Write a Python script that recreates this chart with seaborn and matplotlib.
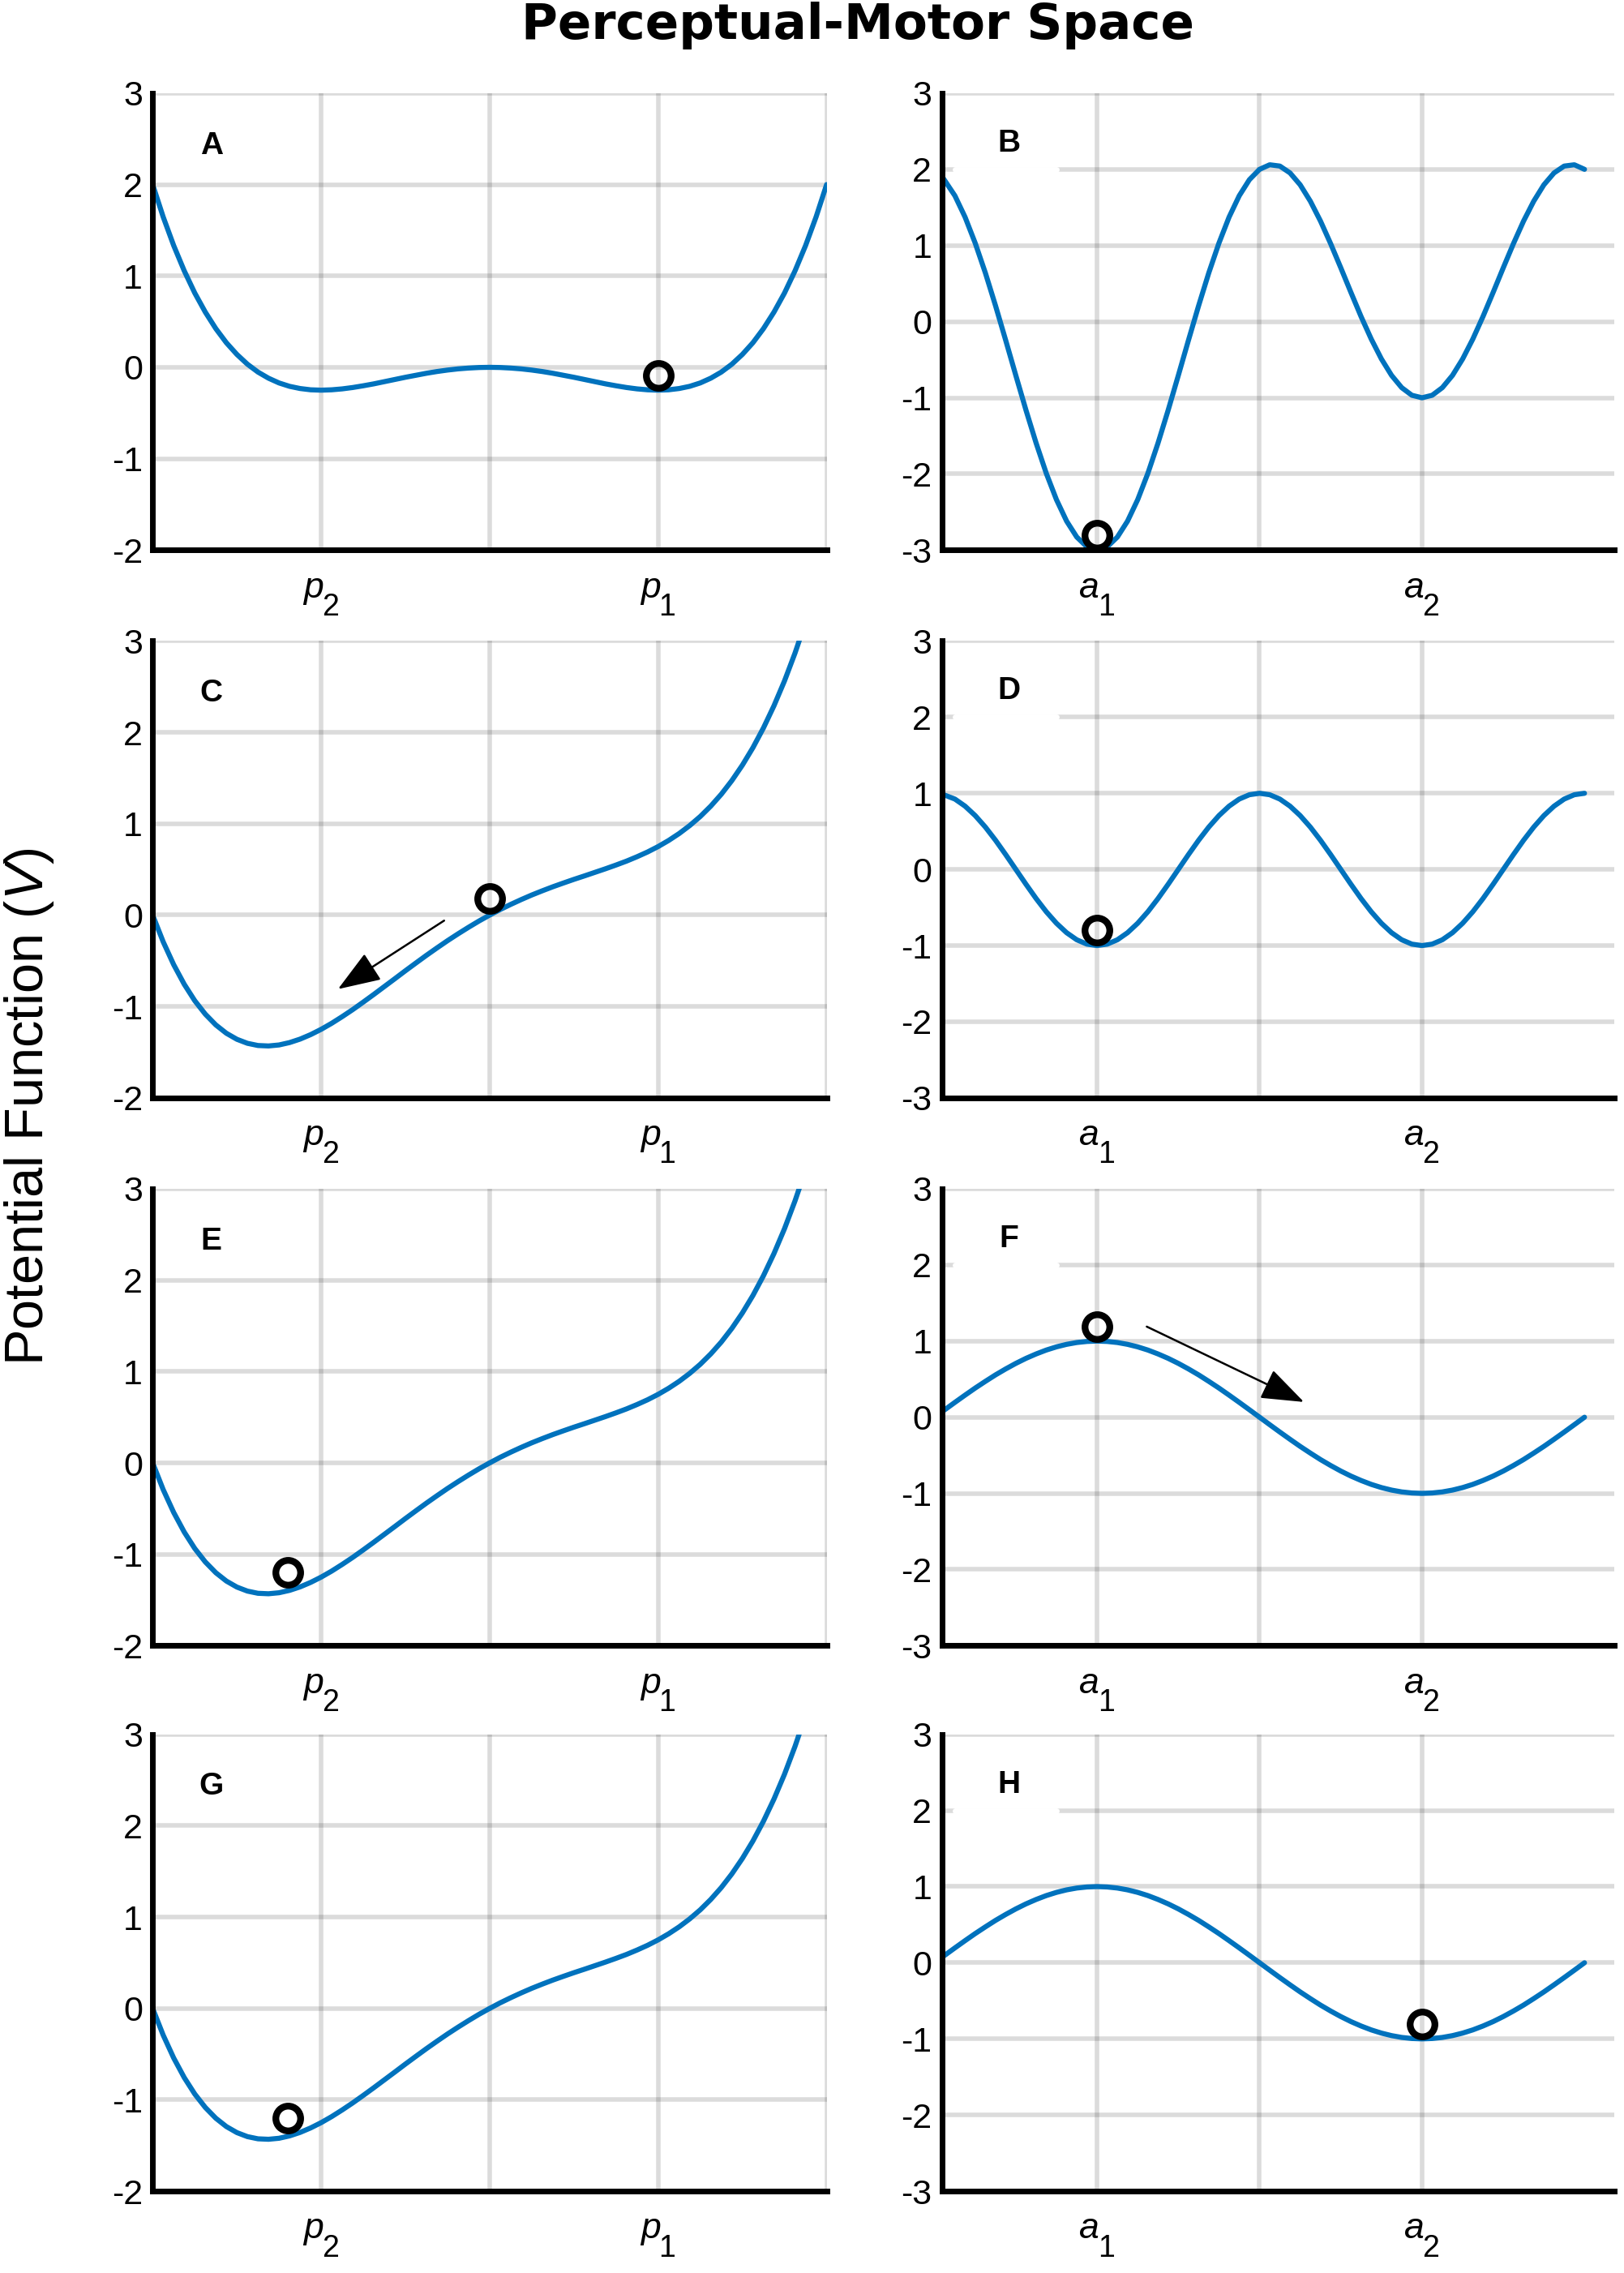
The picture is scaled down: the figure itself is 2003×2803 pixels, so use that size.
import matplotlib
matplotlib.use("Agg")
import matplotlib.pyplot as plt
from matplotlib.patches import FancyArrowPatch
import numpy as np
import seaborn as sns

# ── values ────────────────────────────────────────────────────
# perceptual axis (left column)
P_X = [-2.0, -1.9375, -1.875, -1.8125, -1.75, -1.6875, -1.625, -1.5625,
       -1.5, -1.4375, -1.375, -1.3125, -1.25, -1.1875, -1.125, -1.0625,
       -1.0, -0.9375, -0.875, -0.8125, -0.75, -0.6875, -0.625, -0.5625,
       -0.5, -0.4375, -0.375, -0.3125, -0.25, -0.1875, -0.125, -0.0625,
       0.0, 0.0625, 0.125, 0.1875, 0.25, 0.3125, 0.375, 0.4375,
       0.5, 0.5625, 0.625, 0.6875, 0.75, 0.8125, 0.875, 0.9375,
       1.0, 1.0625, 1.125, 1.1875, 1.25, 1.3125, 1.375, 1.4375,
       1.5, 1.5625, 1.625, 1.6875, 1.75, 1.8125, 1.875, 1.9375, 2.0]
A_V = [2.0, 1.646, 1.332, 1.056, 0.813, 0.604, 0.423, 0.269,
       0.141, 0.034, -0.052, -0.119, -0.171, -0.208, -0.232, -0.246,
       -0.25, -0.246, -0.236, -0.221, -0.202, -0.181, -0.157, -0.133,
       -0.109, -0.087, -0.065, -0.046, -0.030, -0.017, -0.008, -0.002,
       0.0, -0.002, -0.008, -0.017, -0.030, -0.046, -0.065, -0.087,
       -0.109, -0.133, -0.157, -0.181, -0.202, -0.221, -0.236, -0.246,
       -0.25, -0.246, -0.232, -0.208, -0.171, -0.119, -0.052, 0.034,
       0.141, 0.269, 0.423, 0.604, 0.813, 1.056, 1.332, 1.646, 2.0]
TILT_V = [0.0, -0.292, -0.543, -0.757, -0.937, -1.084, -1.202, -1.293,
          -1.359, -1.403, -1.427, -1.432, -1.421, -1.395, -1.357, -1.308,
          -1.25, -1.184, -1.111, -1.034, -0.952, -0.868, -0.782, -0.696,
          -0.609, -0.524, -0.44, -0.359, -0.28, -0.205, -0.133, -0.064,
          0.0, 0.061, 0.117, 0.170, 0.22, 0.266, 0.31, 0.351,
          0.391, 0.429, 0.468, 0.507, 0.548, 0.591, 0.639, 0.691,
          0.75, 0.817, 0.893, 0.980, 1.079, 1.193, 1.323, 1.472,
          1.641, 1.832, 2.048, 2.291, 2.563, 2.868, 3.207, 3.584, 4.0]

# motor axis (right column)
M_X = [-1.5, -1.3744, -1.2763, -1.1781, -1.0799, -0.9817, -0.8836, -0.7854,
       -0.6872, -0.5890, -0.4909, -0.3927, -0.2945, -0.1963, -0.0982,
       0.0, 0.0982, 0.1963, 0.2945, 0.3927, 0.4909, 0.5890, 0.6872,
       0.7854, 0.8836, 0.9817, 1.0799, 1.1781, 1.2763, 1.3744, 1.4726,
       1.5708, 1.6690, 1.7671, 1.8653, 1.9635, 2.0617, 2.1598, 2.2580,
       2.3562, 2.4544, 2.5525, 2.6507, 2.7489, 2.8471, 2.9452, 3.0434,
       3.1416, 3.2398, 3.3379, 3.4361, 3.5343, 3.6325, 3.7306, 3.8288,
       3.9270, 4.0252, 4.1233, 4.2215, 4.3197, 4.4179, 4.5160, 4.6142, 4.7124]
B_V = [1.909, 1.653, 1.373, 1.031, 0.640, 0.209, -0.244, -0.707,
       -1.163, -1.596, -1.993, -2.338, -2.620, -2.829, -2.957,
       -3.0, -2.957, -2.829, -2.620, -2.338, -1.993, -1.596, -1.163,
       -0.707, -0.244, 0.209, 0.640, 1.031, 1.373, 1.653, 1.864,
       2.0, 2.060, 2.043, 1.953, 1.797, 1.582, 1.321, 1.024,
       0.707, 0.383, 0.066, -0.229, -0.490, -0.706, -0.867, -0.967,
       -1.0, -0.967, -0.867, -0.706, -0.490, -0.229, 0.066, 0.383,
       0.707, 1.024, 1.321, 1.582, 1.797, 1.953, 2.043, 2.060, 2.0]
D_V = [0.990, 0.924, 0.831, 0.707, 0.556, 0.383, 0.195, 0.0,
       -0.195, -0.383, -0.556, -0.707, -0.831, -0.924, -0.981,
       -1.0, -0.981, -0.924, -0.831, -0.707, -0.556, -0.383, -0.195,
       0.0, 0.195, 0.383, 0.556, 0.707, 0.831, 0.924, 0.981,
       1.0, 0.981, 0.924, 0.831, 0.707, 0.556, 0.383, 0.195,
       0.0, -0.195, -0.383, -0.556, -0.707, -0.831, -0.924, -0.981,
       -1.0, -0.981, -0.924, -0.831, -0.707, -0.556, -0.383, -0.195,
       0.0, 0.195, 0.383, 0.556, 0.707, 0.831, 0.924, 0.981, 1.0]
F_V = [0.071, 0.195, 0.290, 0.383, 0.471, 0.556, 0.634, 0.707,
       0.773, 0.831, 0.882, 0.924, 0.957, 0.981, 0.995,
       1.0, 0.995, 0.981, 0.957, 0.924, 0.882, 0.831, 0.773,
       0.707, 0.634, 0.556, 0.471, 0.383, 0.290, 0.195, 0.098,
       0.0, -0.098, -0.195, -0.290, -0.383, -0.471, -0.556, -0.634,
       -0.707, -0.773, -0.831, -0.882, -0.924, -0.957, -0.981, -0.995,
       -1.0, -0.995, -0.981, -0.957, -0.924, -0.882, -0.831, -0.773,
       -0.707, -0.634, -0.556, -0.471, -0.383, -0.290, -0.195, -0.098, 0.0]

PANELS = ["A", "B", "C", "D", "E", "F", "G", "H"]
CURVES = {"A": (P_X, A_V), "B": (M_X, B_V), "C": (P_X, TILT_V), "D": (M_X, D_V),
          "E": (P_X, TILT_V), "F": (M_X, F_V), "G": (P_X, TILT_V), "H": (M_X, F_V)}
BALL_X = [1.0, 0.0, 0.0, 0.0, -1.2, 0.0, -1.2, 3.142]
BALL_Y = [-0.09, -2.81, 0.18, -0.8, -1.2, 1.19, -1.2, -0.8]
ARROWS = {"C": ((-0.27, -0.06), (-0.90, -0.81)),
          "F": ((0.48, 1.19), (2.0, 0.2))}

P_TICKS = [-2, -1, 0, 1, 2]
A_TICKS = [0, np.pi / 2, np.pi]
# (tick position, letter, subscript)
P_NAMES = [(-1, "p", "2"), (1, "p", "1")]
A_NAMES = [(0, "a", "1"), (np.pi, "a", "2")]

# ── style ─────────────────────────────────────────────────────
sns.set_style("white")
plt.rcParams.update({
    "font.family": ["Liberation Sans", "DejaVu Sans"],
    "mathtext.fontset": "custom",
    "mathtext.rm": "Liberation Sans",
    "mathtext.it": "Liberation Sans:italic",
    "axes.unicode_minus": False,
    "text.color": "black",
    "xtick.color": "black",
    "ytick.color": "black",
})
BLUE = "#0072BD"

fig = plt.figure(figsize=(20.03, 28.03), dpi=100)
BOTTOMS = [0.758, 0.517, 0.276, 0.036]
LEFTS, WIDTHS = [0.094, 0.580], [0.415, 0.414]

for i, letter in enumerate(PANELS):
    row, col = divmod(i, 2)
    ax = fig.add_axes([LEFTS[col], BOTTOMS[row], WIDTHS[col], 0.201])
    xs, ys = CURVES[letter]
    sns.lineplot(x=xs, y=ys, ax=ax, color=BLUE, linewidth=4.5, sort=False)
    ax.plot(BALL_X[i], BALL_Y[i], "o", ms=22, mfc="none", mec="k", mew=6,
            zorder=5, clip_on=False)

    if letter in ARROWS:
        tail, head = ARROWS[letter]
        ax.add_patch(FancyArrowPatch(tail, head,
                                     arrowstyle="-|>,head_length=1.5,head_width=0.55",
                                     mutation_scale=22, lw=1.8, color="k",
                                     shrinkA=0, shrinkB=0, zorder=6))

    if col == 0:
        ax.set_xlim(-2, 2); ax.set_ylim(-2, 3)
        ax.set_xticks(P_TICKS)
        ax.set_yticks(range(-2, 4))
        names = P_NAMES
        lx, ly = 0.087, 0.885
    else:
        ax.set_xlim(-1.5, 5.0); ax.set_ylim(-3, 3)
        ax.set_xticks(A_TICKS)
        ax.set_yticks(range(-3, 4))
        ax.axhline(2, xmin=0.02, xmax=0.17, color="white", lw=5, zorder=1.5)
        names = A_NAMES
        lx, ly = 0.10, 0.89
    ax.set_xticklabels([])

    # x tick names: italic letter with a large, low subscript (MATLAB style)
    for pos, sym, sub in names:
        ax.annotate(sym, xy=(pos, 0), xycoords=("data", "axes fraction"),
                    xytext=(-7, -42), textcoords="offset points",
                    fontsize=32, fontstyle="italic", ha="center", va="baseline",
                    annotation_clip=False)
        ax.annotate(sub, xy=(pos, 0), xycoords=("data", "axes fraction"),
                    xytext=(8, -58), textcoords="offset points",
                    fontsize=27, ha="center", va="baseline",
                    annotation_clip=False)

    ax.text(lx, ly, letter, transform=ax.transAxes, fontsize=28,
            fontweight="bold", ha="center", va="center")

    ax.grid(True, color="k", alpha=0.14, lw=4)
    ax.set_axisbelow(True)
    for s in ["top", "right"]:
        ax.spines[s].set_visible(False)
    for s in ["left", "bottom"]:
        ax.spines[s].set_linewidth(5); ax.spines[s].set_color("k")
    ax.tick_params(direction="in", length=12, width=5, colors="k")
    ax.tick_params(axis="y", labelsize=31, pad=9)
    ax.set_xlabel(""); ax.set_ylabel("")

fig.text(0.528, 0.9886, "Perceptual-Motor Space", family="DejaVu Sans",
         fontweight="bold", fontsize=44, ha="center", va="center")
fig.text(0.018, 0.513, "Potential Function ($V$)", rotation=90, fontsize=48,
         ha="center", va="center")

plt.savefig("out.png", dpi=100)
plt.close()
